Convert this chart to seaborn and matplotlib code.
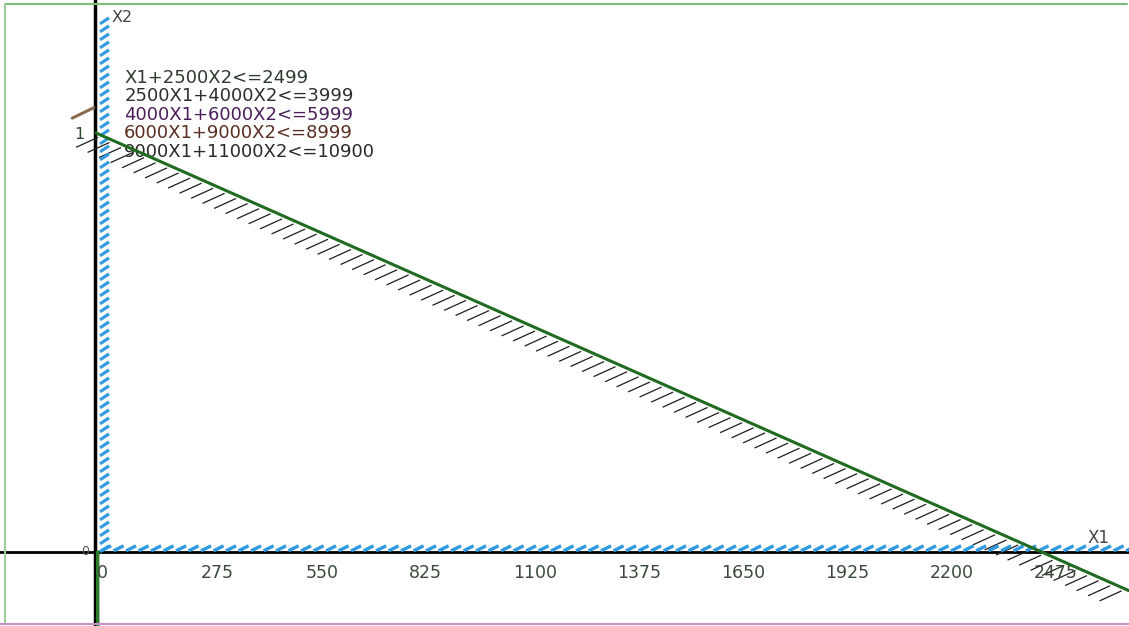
import numpy as np
import pandas as pd
import matplotlib
matplotlib.use("Agg")
import matplotlib.pyplot as plt
import seaborn as sns
from matplotlib.lines import Line2D
from matplotlib.collections import LineCollection

# constraints a*X1 + b*X2 <= c
labels = ["X1+2500X2<=2499", "2500X1+4000X2<=3999", "4000X1+6000X2<=5999",
          "6000X1+9000X2<=8999", "9000X1+11000X2<=10900"]
coef_a = [1, 2500, 4000, 6000, 9000]
coef_b = [2500, 4000, 6000, 9000, 11000]
rhs = [2499, 3999, 5999, 8999, 10900]
label_colors = ["#2e3a2e", "#2e2e2e", "#4b1f5b", "#5a2e22", "#2a2a2a"]

x1_ticks = [0, 275, 550, 825, 1100, 1375, 1650, 1925, 2200, 2475]
x1_lim = (-254, 2731)
x2_lim = (-0.177, 1.317)

# short brown stub near the X2 axis
stub_x1 = [-63, -6]
stub_x2 = [1.035, 1.06]

sns.set_theme(style="white")
plt.rcParams['font.family'] = ['DejaVu Sans']

fig = plt.figure(figsize=(11.29, 6.26), dpi=100)
ax = fig.add_axes([0, 0, 1, 1])
ax.set_xlim(*x1_lim)
ax.set_ylim(*x2_lim)
ax.axis("off")

to_px = ax.transData.transform
to_data = ax.transData.inverted().transform


def hatch(x1, x2, offset_a, offset_b, color, lw):
    pts = to_px(np.column_stack([x1, x2]))
    segs = [to_data(np.array([p + offset_a, p + offset_b])) for p in pts]
    ax.add_collection(LineCollection(segs, colors=color, linewidths=lw, zorder=3))


def along_x(start, stop, step):
    px = np.arange(start, stop, step)
    return to_data(np.column_stack([px, np.zeros_like(px)]))[:, 0]


def along_y(start, stop, step):
    py = np.arange(start, stop, step)
    return to_data(np.column_stack([np.zeros_like(py), py]))[:, 1]


# axes lines
ax.axhline(0, color="black", lw=2.0, zorder=2)
ax.axvline(-4, color="black", lw=2.5, zorder=2)

# main constraint line X1 + 2500 X2 = 2499
a, b, c = coef_a[0], coef_b[0], rhs[0]
line_df = pd.DataFrame({"X1": [0, x1_lim[1]]})
line_df["X2"] = (c - a * line_df["X1"]) / b
sns.lineplot(data=line_df, x="X1", y="X2", ax=ax, color="#1f6b1f", lw=2.2, zorder=4)

# hatches under the main line
px0 = to_px([[0, 0]])[0][0]
py0 = to_px([[0, 0]])[0][1]
hx = along_x(px0 + 3, 1129, 11.5)
hatch(hx, (c - a * hx) / b, np.array([-1, -3]), np.array([-23, -13]), "#1e1e1e", 0.9)

# last constraint drawn below the X1 axis
a5, b5, c5 = coef_a[4], coef_b[4], rhs[4]
x2_low = np.array([0, x2_lim[0]])
ax.plot((c5 - b5 * x2_low) / a5 + 3, x2_low, color="#2a7a2a", lw=2.5, zorder=3)

# non-negativity: blue hatched axes
bx = along_x(px0 + 5, 1129, 12.5)
hatch(bx, np.zeros_like(bx), np.array([0, 1]), np.array([10, 6]), "#2f9ae0", 2.4)
by = along_y(py0 + 3, 612, 8.0)
hatch(np.zeros_like(by), by, np.array([4, -3]), np.array([13, 3]), "#2f9ae0", 2.2)

# brown stub
ax.plot(stub_x1, stub_x2, color="#8a6a4a", lw=2.2, zorder=3)

# tick labels
for t in x1_ticks:
    ax.text(t + 3, -0.05, str(t), ha="left", va="center", fontsize=12.5, color="#3a4a3a")
ax.text(-45, 0.995, "1", ha="center", va="center", fontsize=11.5, color="#2e4a2e")
ax.text(-30, 0.0, "0", ha="center", va="center", fontsize=9, color="#555555")
ax.text(2620, 0.033, "X1", ha="left", va="center", fontsize=12, color="#444444")
ax.text(40, 1.275, "X2", ha="left", va="center", fontsize=11.5, color="#444444")

# constraint labels
for i, (lab, col) in enumerate(zip(labels, label_colors)):
    ax.text(0.110, 0.876 - i * 0.0297, lab, transform=ax.transAxes,
            ha="left", va="center", fontsize=13, color=col)

# outer frame
fig.add_artist(Line2D([5 / 1129, 1127 / 1129], [1 - 4 / 626] * 2, color="#7cbf7c", lw=1.5))
fig.add_artist(Line2D([5 / 1129] * 2, [2 / 626, 1 - 4 / 626], color="#9ccf9c", lw=1.5))
fig.add_artist(Line2D([0, 1], [2 / 626] * 2, color="#c890c8", lw=1.5))

fig.savefig("out.png", dpi=100, facecolor="white")
